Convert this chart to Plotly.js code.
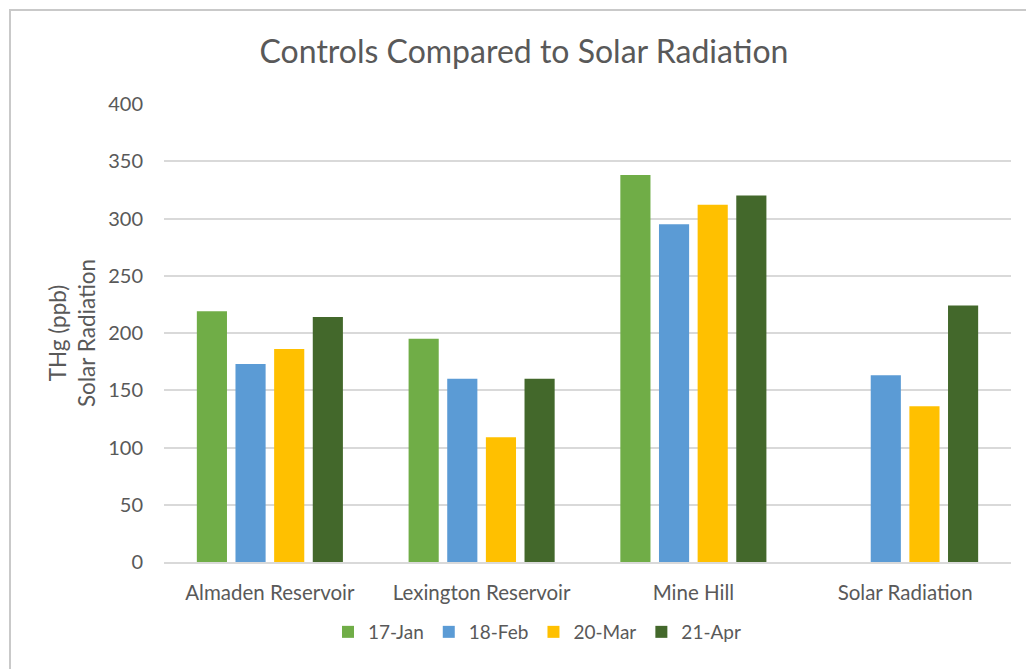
<!DOCTYPE html>
<html><head><meta charset="utf-8">
<script src="https://cdn.plot.ly/plotly-3.0.1.min.js"></script>
<style>
html,body{margin:0;padding:0;background:#fff;}
#chart{position:absolute;left:0;top:0;width:1026px;height:669px;}
#frame{position:absolute;left:9px;top:9px;width:1017px;height:660px;border-top:2px solid #c9c9c9;border-left:2px solid #c9c9c9;pointer-events:none;}
</style></head>
<body>
<div id="chart"></div>
<div id="frame"></div>
<script>
const categories = ["Almaden Reservoir", "Lexington Reservoir", "Mine Hill", "Solar Radiation"];
const seriesNames = ["17-Jan", "18-Feb", "20-Mar", "21-Apr"];
const jan17 = [219, 195, 338, null];
const feb18 = [173, 160, 295, 163];
const mar20 = [186, 109, 312, 136];
const apr21 = [214, 160, 320, 224];
const colors = ["#70AD47", "#5B9BD5", "#FFC000", "#43682B"];
const yTicks = [0, 50, 100, 150, 200, 250, 300, 350, 400];

const values = [jan17, feb18, mar20, apr21];
const font = "Lato, 'Open Sans', sans-serif";
const traces = values.map((v, i) => ({
  type: "bar",
  name: seriesNames[i],
  x: categories,
  y: v,
  marker: {color: colors[i], line: {width: 0}},
  hoverinfo: "x+y+name"
}));

const L = 164, R = 15, T = 104, B = 107;
const plotW = 1026 - L - R, plotH = 669 - T - B;
const layout = {
  width: 1026, height: 669,
  paper_bgcolor: "#fff", plot_bgcolor: "#fff",
  margin: {l: L, r: R, t: T, b: B},
  barmode: "group", bargap: 0.27, bargroupgap: 0.22,
  font: {family: font, color: "#595959", size: 20},
  title: {text: "Controls Compared to Solar Radiation", font: {family: font, size: 32, color: "#595959"},
          x: 524/1026, xanchor: "center", y: 1 - 52/669, yanchor: "middle"},
  xaxis: {type: "category", tickfont: {size: 20.5, color: "#595959"}, showgrid: false,
          showline: true, linecolor: "#d9d9d9", linewidth: 1.5, ticks: "", ticklen: 0,
          ticklabelstandoff: 12},
  yaxis: {range: [0, 400], tickvals: yTicks, ticktext: yTicks.map(String), showgrid: true,
          gridcolor: "#d9d9d9", gridwidth: 1.5, zeroline: false, showline: false, ticks: "",
          ticklabelstandoff: 20,
          tickfont: {size: 20, color: "#595959"},
          title: {text: "THg (ppb)<br>Solar Radiation", font: {size: 22.5, color: "#595959"}, standoff: 6}},
  legend: {orientation: "h", x: (537 - L) / plotW, xanchor: "center", y: -(632 - 562) / plotH, yanchor: "middle",
           font: {size: 19, color: "#595959"}, itemwidth: 30, traceorder: "normal"},
  showlegend: true
};
Plotly.newPlot("chart", traces, layout, {displayModeBar: false});
</script>
</body></html>
